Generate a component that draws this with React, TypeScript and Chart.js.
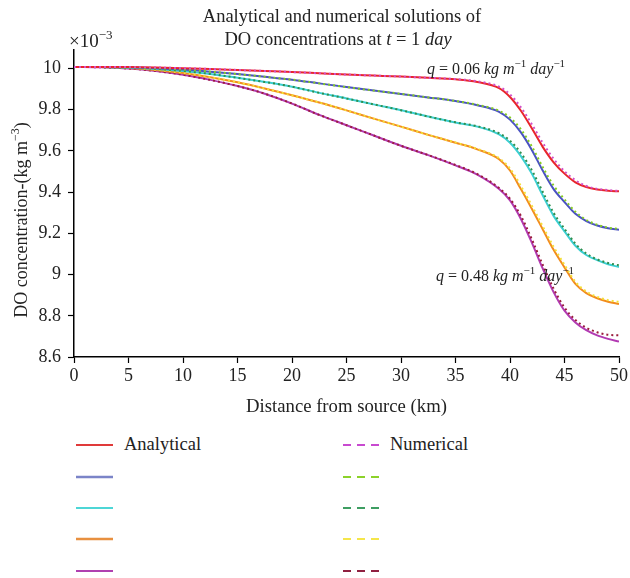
import React, { useEffect, useRef } from "react";
import { Chart, registerables } from "chart.js";
Chart.register(...registerables);

// ---------- data ----------
const distanceKm = [0, 2.5, 5, 7.5, 10, 12.5, 15, 17.5, 20, 22.5, 25, 27.5, 30, 32.5, 35, 37, 39, 40, 41, 42, 43, 44, 45, 46, 47, 48, 49, 50];

const analyticalQ1 = [10.008, 10.008, 10.007, 10.005, 10.002, 9.998, 9.993, 9.988, 9.983, 9.977, 9.971, 9.966, 9.961, 9.955, 9.948, 9.935, 9.905, 9.862, 9.795, 9.71, 9.62, 9.545, 9.49, 9.448, 9.425, 9.413, 9.407, 9.404];
const analyticalQ2 = [10.008, 10.008, 10.006, 10.002, 9.995, 9.985, 9.973, 9.96, 9.946, 9.928, 9.91, 9.893, 9.877, 9.86, 9.842, 9.822, 9.79, 9.752, 9.69, 9.605, 9.505, 9.415, 9.352, 9.295, 9.26, 9.238, 9.225, 9.218];
const analyticalQ3 = [10.008, 10.007, 10.004, 9.998, 9.988, 9.974, 9.955, 9.935, 9.912, 9.882, 9.855, 9.826, 9.798, 9.767, 9.738, 9.718, 9.68, 9.64, 9.575, 9.49, 9.385, 9.285, 9.21, 9.14, 9.095, 9.07, 9.05, 9.037];
const analyticalQ4 = [10.008, 10.007, 10.003, 9.993, 9.978, 9.958, 9.933, 9.903, 9.87, 9.835, 9.797, 9.757, 9.718, 9.678, 9.64, 9.608, 9.56, 9.505, 9.415, 9.32, 9.22, 9.12, 9.035, 8.955, 8.91, 8.885, 8.868, 8.857];
const analyticalQ5 = [10.008, 10.006, 10.0, 9.988, 9.97, 9.945, 9.915, 9.878, 9.83, 9.775, 9.725, 9.675, 9.625, 9.58, 9.53, 9.485, 9.415, 9.36, 9.27, 9.155, 9.03, 8.915, 8.825, 8.768, 8.73, 8.705, 8.688, 8.675];

const numericalQ1 = [10.008, 10.008, 10.007, 10.005, 10.002, 9.998, 9.993, 9.988, 9.983, 9.977, 9.971, 9.966, 9.961, 9.955, 9.949, 9.938, 9.912, 9.875, 9.812, 9.73, 9.64, 9.562, 9.502, 9.458, 9.43, 9.416, 9.41, 9.406];
const numericalQ2 = [10.008, 10.008, 10.006, 10.002, 9.995, 9.985, 9.973, 9.96, 9.946, 9.928, 9.91, 9.893, 9.877, 9.86, 9.843, 9.824, 9.795, 9.762, 9.705, 9.622, 9.522, 9.432, 9.365, 9.305, 9.265, 9.242, 9.228, 9.222];
const numericalQ3 = [10.008, 10.007, 10.004, 9.998, 9.988, 9.974, 9.955, 9.935, 9.912, 9.882, 9.855, 9.826, 9.798, 9.767, 9.739, 9.72, 9.686, 9.65, 9.59, 9.507, 9.402, 9.3, 9.222, 9.15, 9.102, 9.074, 9.056, 9.045];
const numericalQ4 = [10.008, 10.007, 10.003, 9.993, 9.978, 9.958, 9.933, 9.903, 9.87, 9.835, 9.797, 9.757, 9.718, 9.678, 9.641, 9.61, 9.565, 9.515, 9.43, 9.335, 9.235, 9.135, 9.048, 8.965, 8.918, 8.892, 8.876, 8.868];
const numericalQ5 = [10.008, 10.006, 10.0, 9.988, 9.97, 9.945, 9.915, 9.878, 9.83, 9.775, 9.725, 9.675, 9.625, 9.58, 9.532, 9.488, 9.42, 9.368, 9.285, 9.172, 9.048, 8.932, 8.84, 8.78, 8.742, 8.72, 8.708, 8.705];

const xTickValues = [0, 5, 10, 15, 20, 25, 30, 35, 40, 45, 50];
const yTickValues = [8.6, 8.8, 9, 9.2, 9.4, 9.6, 9.8, 10];

const analyticalColors = ["#E8252B", "#4A52C2", "#3CCFD2", "#F28C1E", "#B23AB2"];
const numericalColors = ["#D24FC8", "#86CC22", "#2F8F4E", "#F4E03A", "#9A1C3C"];
const legendAnalyticalColors = ["#E03A3A", "#7B84C8", "#4DD6D6", "#E89040", "#B040B0"];
const legendNumericalColors = ["#C84AD0", "#8CD22A", "#3E9E62", "#F5E64A", "#902040"];

const SERIF = '"Liberation Serif", "DejaVu Serif", serif';

type Run = { t: string; it?: boolean; sup?: boolean };

function drawRuns(ctx: CanvasRenderingContext2D, runs: Run[], x: number, y: number, size: number, align: "left" | "center") {
  const fontFor = (r: Run) => `${r.it ? "italic " : ""}${r.sup ? Math.round(size * 0.68) : size}px ${SERIF}`;
  let total = 0;
  for (const r of runs) {
    ctx.font = fontFor(r);
    total += ctx.measureText(r.t).width;
  }
  let cx = align === "center" ? x - total / 2 : x;
  ctx.textAlign = "left";
  ctx.textBaseline = "alphabetic";
  for (const r of runs) {
    ctx.font = fontFor(r);
    ctx.fillText(r.t, cx, r.sup ? y - size * 0.42 : y);
    cx += ctx.measureText(r.t).width;
  }
}

const textPlugin = {
  id: "textPlugin",
  afterDraw(chart: any) {
    const ctx: CanvasRenderingContext2D = chart.ctx;
    const area = chart.chartArea;
    const mid = (area.left + area.right) / 2;
    ctx.save();
    ctx.fillStyle = "#222";
    // title
    drawRuns(ctx, [{ t: "Analytical and numerical solutions of" }], 342, 22, 18.5, "center");
    drawRuns(ctx, [{ t: "DO concentrations at " }, { t: "t", it: true }, { t: " = 1 " }, { t: "day", it: true }], 338, 45, 18.5, "center");
    // x10^-3
    drawRuns(ctx, [{ t: "×10" }, { t: "−3", sup: true }], 69, 47, 19, "left");
    // annotations
    drawRuns(ctx, [{ t: "q", it: true }, { t: " = 0.06 " }, { t: "kg m", it: true }, { t: "−1", sup: true }, { t: " day", it: true }, { t: "−1", sup: true }], 496, 74, 16, "center");
    drawRuns(ctx, [{ t: "q", it: true }, { t: " = 0.48 " }, { t: "kg m", it: true }, { t: "−1", sup: true }, { t: " day", it: true }, { t: "−1", sup: true }], 505, 281, 16, "center");
    // x title
    drawRuns(ctx, [{ t: "Distance from source (km)" }], mid, 412, 18.7, "center");
    // y title
    ctx.translate(27, 220);
    ctx.rotate(-Math.PI / 2);
    drawRuns(ctx, [{ t: "DO concentration-(kg m" }, { t: "−3", sup: true }, { t: ")" }], 0, 0, 18, "center");
    ctx.restore();
  },
};

function LegendSwatch({ color, dashed, width }: { color: string; dashed: boolean; width: number }) {
  return (
    <svg width={37} height={6} style={{ display: "block" }}>
      <line x1={0} y1={3} x2={37} y2={3} stroke={color} strokeWidth={width} strokeDasharray={dashed ? "8,6" : undefined} />
    </svg>
  );
}

export default function App() {
  const ref = useRef<HTMLCanvasElement | null>(null);

  useEffect(() => {
    if (!ref.current) return;
    const analytical = [analyticalQ1, analyticalQ2, analyticalQ3, analyticalQ4, analyticalQ5];
    const numerical = [numericalQ1, numericalQ2, numericalQ3, numericalQ4, numericalQ5];
    const datasets: any[] = [];
    analytical.forEach((arr, k) => {
      datasets.push({
        label: `Analytical ${k + 1}`,
        data: distanceKm.map((x, i) => ({ x, y: arr[i] })),
        borderColor: analyticalColors[k],
        borderWidth: 2,
        pointRadius: 0,
        cubicInterpolationMode: "monotone",
        fill: false,
        order: 2,
      });
    });
    numerical.forEach((arr, k) => {
      datasets.push({
        label: `Numerical ${k + 1}`,
        data: distanceKm.map((x, i) => ({ x, y: arr[i] })),
        borderColor: numericalColors[k],
        borderWidth: 2,
        borderDash: [2, 3],
        pointRadius: 0,
        cubicInterpolationMode: "monotone",
        fill: false,
        order: 1,
      });
    });

    const chart = new Chart(ref.current, {
      type: "line",
      data: { datasets },
      plugins: [textPlugin],
      options: {
        animation: false,
        responsive: false,
        maintainAspectRatio: false,
        layout: { padding: { top: 50, right: 9, left: 0, bottom: 0 } },
        plugins: { legend: { display: false }, tooltip: { enabled: false }, title: { display: false } },
        scales: {
          x: {
            type: "linear",
            min: 0,
            max: 50,
            afterBuildTicks: (s: any) => {
              s.ticks = xTickValues.map((v) => ({ value: v }));
            },
            afterFit: (s: any) => {
              s.height = 73;
            },
            ticks: { color: "#222", font: { family: SERIF, size: 18 }, padding: 2, maxRotation: 0, autoSkip: false },
            grid: { display: true, drawOnChartArea: false, tickLength: 6, color: "#000", tickWidth: 1.2 },
            border: { display: true, color: "#000", width: 1.5 },
          },
          y: {
            type: "linear",
            min: 8.6,
            max: 10.09,
            afterBuildTicks: (s: any) => {
              s.ticks = yTickValues.map((v) => ({ value: v }));
            },
            afterFit: (s: any) => {
              s.width = 74;
            },
            ticks: {
              color: "#222",
              font: { family: SERIF, size: 18 },
              padding: 7,
              autoSkip: false,
              callback: (v: any) => String(Math.round(Number(v) * 10) / 10),
            },
            grid: { display: true, drawOnChartArea: false, tickLength: 6, color: "#000", tickWidth: 1.2 },
            border: { display: true, color: "#000", width: 1.5 },
          },
        },
      },
    });
    return () => chart.destroy();
  }, []);

  const rowTops = [445, 477, 508, 539, 571];
  const labelStyle: React.CSSProperties = { position: "absolute", top: rowTops[0] - 12, font: `18.5px ${SERIF}`, color: "#222", lineHeight: "22px", whiteSpace: "nowrap" };
  return (
    <div style={{ position: "absolute", left: 0, top: 0, width: 630, height: 578, background: "#fff" }}>
      <canvas ref={ref} width={630} height={430} style={{ display: "block", width: 630, height: 430 }} />
      {rowTops.map((y, i) => (
        <React.Fragment key={i}>
          <div style={{ position: "absolute", left: 76, top: y - 3 }}>
            <LegendSwatch color={legendAnalyticalColors[i]} dashed={false} width={i === 1 || i === 3 ? 2.5 : 2} />
          </div>
          <div style={{ position: "absolute", left: 343, top: y - 3 }}>
            <LegendSwatch color={legendNumericalColors[i]} dashed={true} width={2} />
          </div>
        </React.Fragment>
      ))}
      <div style={{ ...labelStyle, left: 124 }}>Analytical</div>
      <div style={{ ...labelStyle, left: 390 }}>Numerical</div>
    </div>
  );
}
